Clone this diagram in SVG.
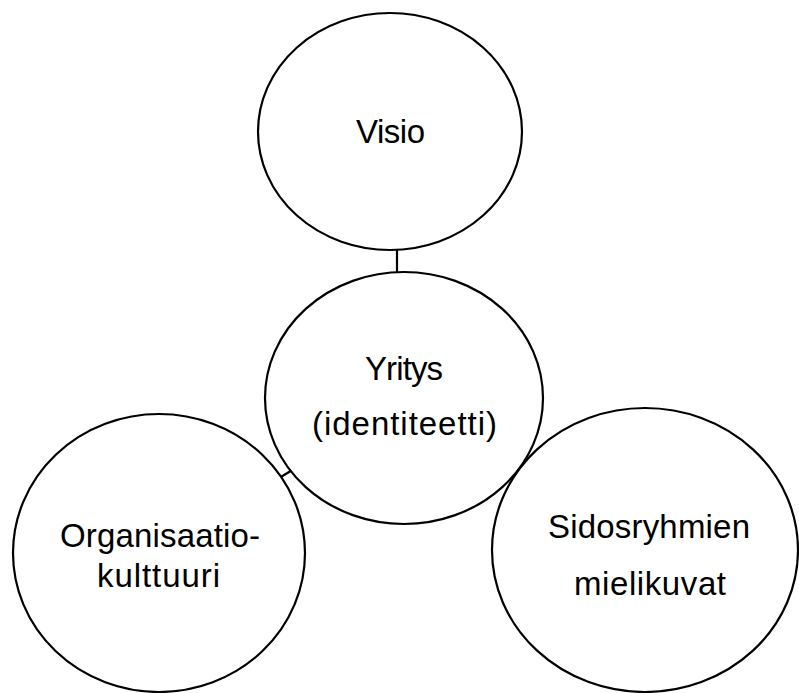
<svg xmlns="http://www.w3.org/2000/svg" width="799" height="693" viewBox="0 0 799 693">
<style>
.node ellipse{fill:#fff;stroke:#000;stroke-width:2.2}
.edges line{stroke:#000;stroke-width:2.2}
text{font-family:"Liberation Sans",Arial,sans-serif;font-size:33px;fill:#000;text-anchor:middle}
</style>
<rect width="799" height="693" fill="#fff"/>
<g class="edges" id="connectors">
<line x1="397" y1="249" x2="397" y2="273"/>
<line x1="280" y1="477.5" x2="291.5" y2="470.5"/>
<line x1="516" y1="474" x2="520" y2="470"/>
</g>
<g class="node" id="visio">
<ellipse cx="390" cy="131.5" rx="132" ry="118.5"/>
<text x="390.5" y="143" textLength="69">Visio</text>
</g>
<g class="node" id="yritys">
<ellipse cx="404" cy="398" rx="139" ry="126"/>
<text x="404" y="380" textLength="78">Yritys</text>
<text x="404.5" y="435" textLength="185">(identiteetti)</text>
</g>
<g class="node" id="organisaatio">
<ellipse cx="159" cy="553" rx="146" ry="139"/>
<text x="160" y="547" textLength="200">Organisaatio-</text>
<text x="158.5" y="587" textLength="123">kulttuuri</text>
</g>
<g class="node" id="sidosryhmat">
<ellipse cx="645" cy="550" rx="153" ry="142"/>
<text x="649" y="538" textLength="202">Sidosryhmien</text>
<text x="650" y="595" textLength="152">mielikuvat</text>
</g>
</svg>
